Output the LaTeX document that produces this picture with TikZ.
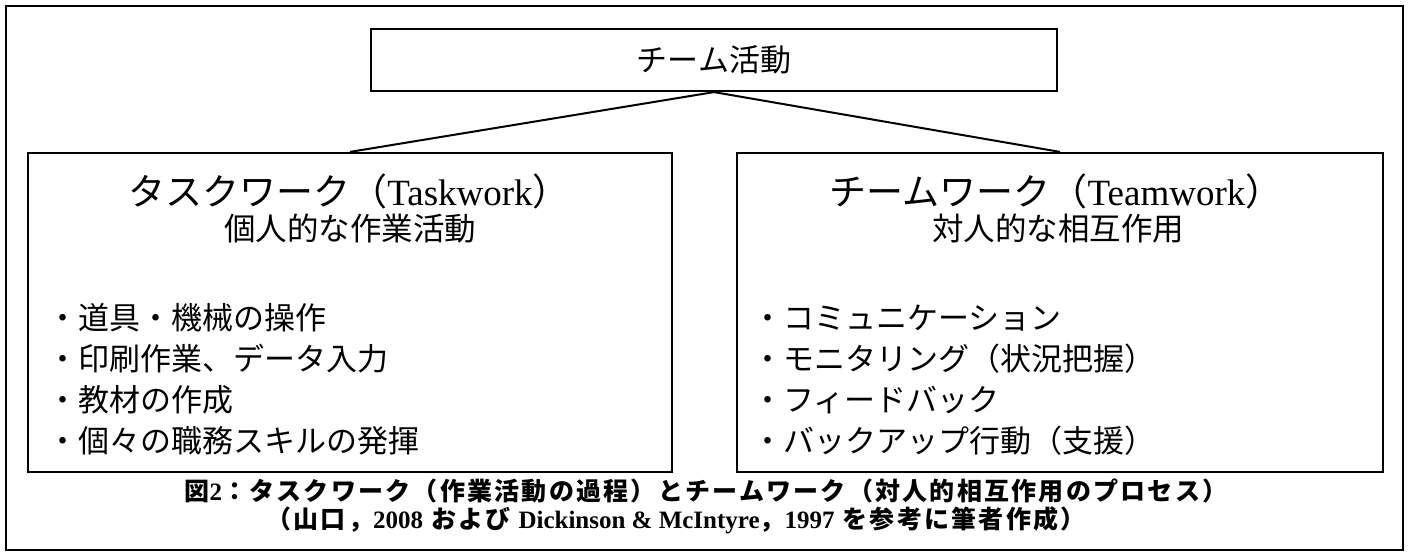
\documentclass[tikz,border=0pt]{standalone}
\usepackage{fontspec}
\setmainfont{Noto Sans CJK JP}
\newfontfamily\lat{Liberation Serif}
\begin{document}
\begin{tikzpicture}[x=1pt,y=-1pt,
  frame/.style={draw=black,line width=2.2pt},
  boxline/.style={draw=black,line width=2.2pt,inner sep=0pt},
  conn/.style={draw=black,line width=2pt},
  txt/.style={inner sep=0pt,anchor=center},
  item/.style={inner sep=0pt,anchor=west,font=\fontsize{31}{31}\selectfont},
  capt/.style={inner sep=0pt,anchor=center,font=\fontsize{25}{25}\selectfont\bfseries\addfontfeatures{LetterSpace=9}}
]
\useasboundingbox (0,0) rectangle (1410,554);
\draw[frame] (6,6) rectangle (1403,550);
% top box
\node[boxline,minimum width=686pt,minimum height=62pt] (top) at (714,60) {\fontsize{31}{31}\selectfont チーム活動};
% side boxes
\node[boxline,minimum width=644pt,minimum height=319pt] (left) at (350,312.5) {};
\node[boxline,minimum width=646pt,minimum height=319pt] (right) at (1060,312.5) {};
\draw[conn] (top.south) -- (left.north);
\draw[conn] (top.south) -- (right.north);
% titles
\node[txt] (lt) at (349,191) {\fontsize{37}{37}\selectfont タスクワーク（{\lat Taskwork}）};
\node[txt] (ls) at (350,229) {\fontsize{31.5}{31.5}\selectfont 個人的な作業活動};
\node[txt] (rt) at (1056,191) {\fontsize{37}{37}\selectfont チームワーク（{\lat Teamwork}）};
\node[txt] (rs) at (1058,229) {\fontsize{31.5}{31.5}\selectfont 対人的な相互作用};
% items
\node[item] (l1) at (47,318) {・道具・機械の操作};
\node[item] (l2) at (47,359) {・印刷作業、データ入力};
\node[item] (l3) at (47,400) {・教材の作成};
\node[item] (l4) at (47,441) {・個々の職務スキルの発揮};
\node[item] (r1) at (752,318) {・コミュニケーション};
\node[item] (r2) at (752,359) {・モニタリング（状況把握）};
\node[item] (r3) at (752,400) {・フィードバック};
\node[item] (r4) at (752,441) {・バックアップ行動（支援）};
% caption
\node[capt] (c1) at (706,491) {図{\lat 2}：タスクワーク（作業活動の過程）とチームワーク（対人的相互作用のプロセス）};
\node[capt] (c2) at (676,520) {（山口，{\lat 2008} および {\lat Dickinson \& McIntyre}，{\lat 1997} を参考に筆者作成）};
\end{tikzpicture}
\end{document}
